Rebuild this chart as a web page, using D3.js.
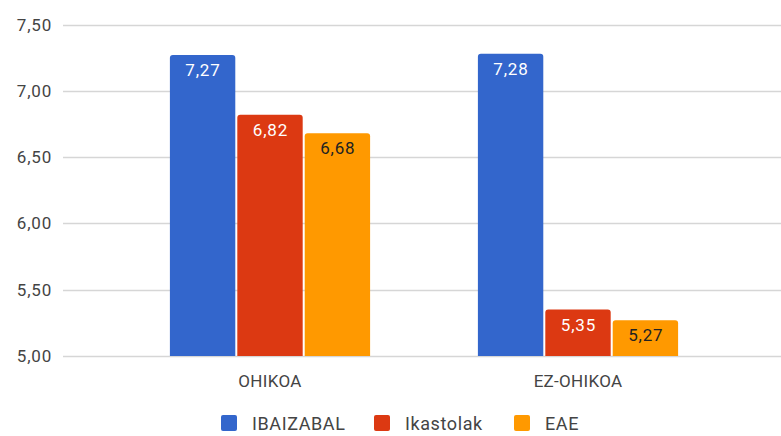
<!DOCTYPE html>
<html><head><meta charset="utf-8">
<script src="https://cdn.jsdelivr.net/npm/d3@7"></script>
<style>body{margin:0;background:#fff}svg{display:block;font-family:Roboto,Arial,sans-serif}</style>
</head><body><svg id="c" width="781" height="436"></svg>
<script>
const categories = ["OHIKOA", "EZ-OHIKOA"];
const seriesNames = ["IBAIZABAL", "Ikastolak", "EAE"];
const ibaizabal = [7.27, 7.28];
const ikastolak = [6.82, 5.35];
const eae = [6.68, 5.27];
const yTicks = [5.0, 5.5, 6.0, 6.5, 7.0, 7.5];
const colors = ["#3366cc", "#dc3912", "#ff9900"];
const labelColors = ["#fff", "#fff", "#222"];
const series = [ibaizabal, ikastolak, eae];

const svg = d3.select("#c");
const fmt = v => d3.format(".2f")(v).replace(".", ",");
const y = d3.scaleLinear().domain([5, 7.5]).range([356, 24.5]);
const x0 = d3.scaleBand().domain(categories).range([116, 732]).paddingInner(0.35).paddingOuter(0.175);
const x1 = d3.scaleBand().domain(seriesNames).range([0, x0.bandwidth()]).paddingInner(0.03);

// grid
svg.append("g").selectAll("line").data(yTicks).join("line")
  .attr("x1", 63).attr("x2", 781)
  .attr("y1", d => Math.round(y(d)) + 0.5).attr("y2", d => Math.round(y(d)) + 0.5)
  .attr("stroke", "#d6d6d6").attr("stroke-width", 1.3);
svg.append("g").selectAll("text").data(yTicks).join("text")
  .attr("x", 52).attr("y", d => y(d) + 6).attr("text-anchor", "end")
  .attr("font-size", 17).attr("fill", "#444").attr("letter-spacing", 0.8).text(fmt);

// bars
const r = 3;
function barPath(x, yt, w, yb) {
  return `M${x},${yb}V${yt + r}Q${x},${yt} ${x + r},${yt}H${x + w - r}Q${x + w},${yt} ${x + w},${yt + r}V${yb}Z`;
}
categories.forEach((c, ci) => {
  const g = svg.append("g").attr("transform", `translate(${x0(c)},0)`);
  series.forEach((s, si) => {
    const v = s[ci];
    const bx = x1(seriesNames[si]);
    g.append("path").attr("d", barPath(bx, y(v), x1.bandwidth(), y(5)))
      .attr("fill", colors[si]);
    g.append("text").attr("x", bx + x1.bandwidth() / 2 + 0.4).attr("y", y(v) + 21)
      .attr("text-anchor", "middle").attr("font-size", 17).attr("letter-spacing", 0.8)
      .attr("fill", labelColors[si]).text(fmt(v));
  });
  svg.append("text").attr("x", x0(c) + x0.bandwidth() / 2).attr("y", 387)
    .attr("text-anchor", "middle").attr("font-size", 17).attr("fill", "#444")
    .attr("letter-spacing", 0.3).text(c);
});

// legend
const legX = [221, 374, 514];
seriesNames.forEach((n, i) => {
  svg.append("rect").attr("x", legX[i]).attr("y", 415).attr("width", 16).attr("height", 16)
    .attr("rx", 2).attr("fill", colors[i]);
  svg.append("text").attr("x", legX[i] + 31).attr("y", 430).attr("font-size", 18)
    .attr("fill", "#444").attr("letter-spacing", 0.6).text(n);
});
</script></body></html>
